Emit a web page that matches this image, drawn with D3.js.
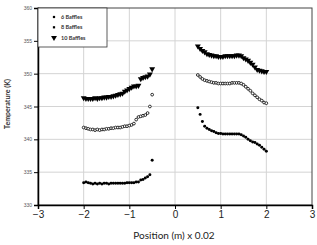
<!DOCTYPE html>
<meta charset="utf-8">
<style>
body { margin: 0; background: #fff; }
svg { display: block; font-family: Lato, "Liberation Sans", sans-serif; }
.grid line { stroke: #d4d4d4; stroke-width: 1; }
.ytick text { font-size: 5px; fill: #555; }
.xaxis text { font-size: 10px; fill: #222; }
</style>
<svg width="317" height="245"></svg>
<script src="https://cdn.jsdelivr.net/npm/d3@7"></script>
<script>

var posLeft = [-2.00,-1.95,-1.90,-1.85,-1.80,-1.75,-1.70,-1.65,-1.60,-1.55,-1.50,-1.45,-1.40,-1.35,-1.30,-1.25,
               -1.20,-1.15,-1.10,-1.05,-1.00,-0.95,-0.90,-0.85,-0.80,-0.75,-0.70,-0.65,-0.60,-0.55,-0.50];
var posRight = [0.50,0.55,0.60,0.65,0.70,0.75,0.80,0.85,0.90,0.95,1.00,1.05,1.10,1.15,1.20,1.25,
                1.30,1.35,1.40,1.45,1.50,1.55,1.60,1.65,1.70,1.75,1.80,1.85,1.90,1.95,2.00];

// temperatures (K)
var b6Left  = [333.4,333.5,333.4,333.3,333.2,333.3,333.2,333.3,333.2,333.3,333.3,333.2,333.3,333.3,333.3,333.3,
               333.3,333.3,333.3,333.4,333.4,333.4,333.4,333.5,333.5,333.8,333.9,334.1,334.3,334.6,336.8];
var b6Right = [344.8,343.8,342.7,342.0,341.7,341.5,341.3,341.2,341.0,340.9,340.9,340.8,340.8,340.8,340.8,340.8,
               340.8,340.8,340.8,340.7,340.5,340.3,340.0,339.8,339.6,339.5,339.3,339.1,338.8,338.5,338.2];
var b8Left  = [341.8,341.7,341.6,341.5,341.5,341.4,341.5,341.4,341.5,341.5,341.6,341.6,341.7,341.7,341.8,341.8,
               341.8,341.9,342.0,342.0,342.1,342.2,342.4,343.0,343.4,343.5,343.6,343.7,344.0,345.0,346.8];
var b8Right = [349.8,349.5,349.2,349.0,348.9,348.8,348.7,348.6,348.6,348.5,348.5,348.5,348.5,348.5,348.5,348.6,
               348.6,348.6,348.6,348.5,348.3,348.0,347.7,347.4,347.0,346.7,346.4,346.1,345.9,345.6,345.5];
var b10Left = [346.3,346.2,346.2,346.2,346.2,346.3,346.2,346.3,346.3,346.4,346.4,346.5,346.5,346.6,346.7,346.8,
               346.9,347.0,347.3,347.5,347.7,347.9,348.1,348.1,348.2,349.2,349.4,349.5,349.6,349.9,350.7];
var b10Right = [354.2,353.8,353.5,353.3,353.0,352.9,352.8,352.7,352.7,352.6,352.6,352.6,352.7,352.7,352.7,352.7,
                352.7,352.8,352.8,352.7,352.4,352.2,352.0,351.7,351.4,351.0,350.6,350.5,350.4,350.3,350.3];

var seriesNames = ["6 Baffles", "8 Baffles", "10 Baffles"];
var xTicks = [-3, -2, -1, 0, 1, 2, 3];
var yTicks = [330, 335, 340, 345, 350, 355, 360];

var svg = d3.select("svg");
var pLeft = 38, pRight = 312, pTop = 8, pBottom = 205;

var x = d3.scaleLinear().domain([-3, 3]).range([pLeft, pRight]);
var y = d3.scaleLinear().domain([330, 360]).range([pBottom, pTop]);

// grid
var grid = svg.append("g").attr("class", "grid");
grid.selectAll(".gx").data(xTicks.slice(1, -1)).enter().append("line")
    .attr("x1", function(d) { return x(d); }).attr("x2", function(d) { return x(d); })
    .attr("y1", pTop).attr("y2", pBottom);
grid.selectAll(".gy").data(yTicks.slice(1, -1)).enter().append("line")
    .attr("y1", function(d) { return y(d); }).attr("y2", function(d) { return y(d); })
    .attr("x1", pLeft).attr("x2", pRight);

// frame
svg.append("rect")
    .attr("x", pLeft).attr("y", pTop)
    .attr("width", pRight - pLeft).attr("height", pBottom - pTop)
    .attr("fill", "none").attr("stroke", "#444").attr("stroke-width", 1);

// axes
var yAxis = svg.append("g").attr("class", "ytick")
    .attr("transform", "translate(" + pLeft + ",0)")
    .call(d3.axisLeft(y).tickValues(yTicks).tickSize(4).tickPadding(2));
yAxis.select(".domain").attr("stroke", "#000").attr("stroke-width", 1.5);

var xAxis = svg.append("g").attr("class", "xaxis")
    .attr("transform", "translate(0," + pBottom + ")")
    .call(d3.axisBottom(x).tickValues(xTicks).tickSize(4).tickPadding(2).tickFormat(d3.format("d")));
xAxis.select(".domain").attr("stroke", "#000").attr("stroke-width", 1.5);

// marker symbols
var dot = d3.symbol().type(d3.symbolCircle).size(7);
var ring = d3.symbol().type(d3.symbolCircle).size(6);
var square = d3.symbol().type(d3.symbolSquare).size(5);
var tri = d3.symbol().type(d3.symbolTriangle).size(15);

function plotSeries(xs, ys, kind) {
  var g = svg.append("g");
  var pts = g.selectAll("path").data(xs.map(function(v, i) { return [v, ys[i]]; }))
    .enter().append("path")
      .attr("transform", function(d) {
        return "translate(" + x(d[0]) + "," + y(d[1]) + ")" + (kind == "tri" ? " rotate(180)" : "");
      });
  if (kind == "tri") pts.attr("d", tri).attr("fill", "#000");
  else if (kind == "open") pts.attr("d", ring).attr("fill", "#fff").attr("stroke", "#000").attr("stroke-width", 0.8);
  else pts.attr("d", dot).attr("fill", "#000");
}

plotSeries(posLeft, b6Left, "fill");
plotSeries(posRight, b6Right, "fill");
plotSeries(posLeft, b8Left, "open");
plotSeries(posRight, b8Right, "open");
plotSeries(posLeft, b10Left, "tri");
plotSeries(posRight, b10Right, "tri");

// legend
var lg = svg.append("g");
lg.append("rect").attr("x", pLeft).attr("y", pTop).attr("width", 69).attr("height", 39)
    .attr("fill", "#fff").attr("stroke", "#333").attr("stroke-width", 0.8);
var kinds = ["fill", "open", "tri"];
seriesNames.forEach(function(name, i) {
  var yy = 17 + i * 10.3;
  var m = lg.append("path").attr("transform", "translate(54," + yy + ")" + (kinds[i] == "tri" ? " rotate(180)" : ""));
  if (kinds[i] == "tri") m.attr("d", tri).attr("fill", "#000");
  else m.attr("d", square).attr("fill", "#000");
  lg.append("text").attr("x", 61).attr("y", yy + 2)
    .attr("font-size", "5.5px").attr("font-weight", "bold").attr("fill", "#333")
    .text(name);
});

// titles
svg.append("text").attr("x", 174).attr("y", 239).attr("text-anchor", "middle")
    .attr("font-size", "10px").attr("fill", "#222").text("Position (m) x 0.02");
svg.append("text").attr("transform", "translate(10,104) rotate(-90)").attr("text-anchor", "middle")
    .attr("font-size", "7px").attr("font-weight", "bold").attr("fill", "#333").text("Temperature (K)");

</script>
